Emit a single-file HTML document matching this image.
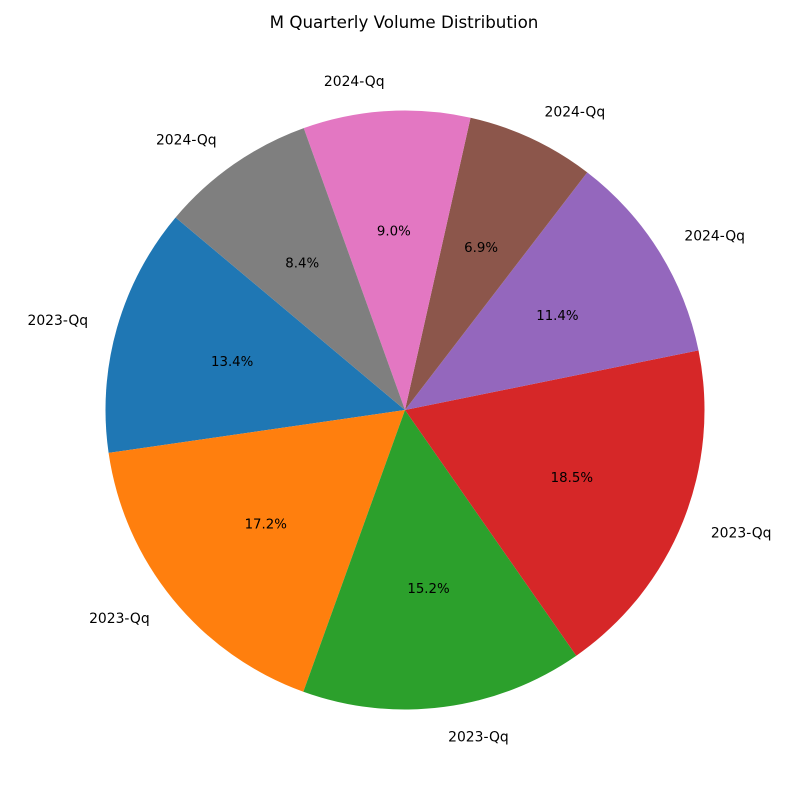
<!DOCTYPE html>
<html><head><meta charset="utf-8"><style>
html,body{margin:0;padding:0;background:#fff;}
svg{display:block;font-family:"DejaVu Sans","Liberation Sans",sans-serif;}
</style></head><body>
<svg id="chart" width="800" height="800" viewBox="0 0 800 800">
<rect width="800" height="800" fill="#fff"/>
<text x="404" y="28" text-anchor="middle" font-size="16.7">M Quarterly Volume Distribution</text>
<g id="slices"></g>
</svg>
<script>
const categories = ["2023-Qq","2023-Qq","2023-Qq","2023-Qq","2024-Qq","2024-Qq","2024-Qq","2024-Qq"];
const values = [13.4,17.2,15.2,18.5,11.4,6.9,9.0,8.4];
const colors = ["#1f77b4","#ff7f0e","#2ca02c","#d62728","#9467bd","#8c564b","#e377c2","#7f7f7f"];
const cx=405, cy=410, r=299.5, startAngle=140;
const g=document.getElementById('slices');
const NS='http://www.w3.org/2000/svg';
const total=values.reduce((a,b)=>a+b,0);
let a=startAngle;
function pt(deg,rad){const t=deg*Math.PI/180;return [cx+rad*Math.cos(t), cy-rad*Math.sin(t)];}
values.forEach((v,i)=>{
  const sweep=v/total*360, a2=a+sweep;
  const p1=pt(a,r), p2=pt(a2,r);
  const path=document.createElementNS(NS,'path');
  path.setAttribute('d',`M${cx},${cy} L${p1[0]},${p1[1]} A${r},${r} 0 ${sweep>180?1:0} 0 ${p2[0]},${p2[1]} Z`);
  path.setAttribute('fill',colors[i]);
  
  
  g.appendChild(path);
  const mid=a+sweep/2;
  const lp=pt(mid,r*1.1);
  const lt=document.createElementNS(NS,'text');
  lt.setAttribute('x',lp[0]);lt.setAttribute('y',lp[1]+5);
  lt.setAttribute('font-size','13.9');
  lt.setAttribute('text-anchor',lp[0]>=cx?'start':'end');
  lt.textContent=categories[i];
  
  
  g.appendChild(lt);
  const pp=pt(mid,r*0.6);
  const pt2=document.createElementNS(NS,'text');
  pt2.setAttribute('x',pp[0]);pt2.setAttribute('y',pp[1]+5);
  pt2.setAttribute('font-size','13.33');
  pt2.setAttribute('text-anchor','middle');
  pt2.textContent=(v/total*100).toFixed(1)+'%';
  
  
  g.appendChild(pt2);
  a=a2;
});
</script>
</body></html>
